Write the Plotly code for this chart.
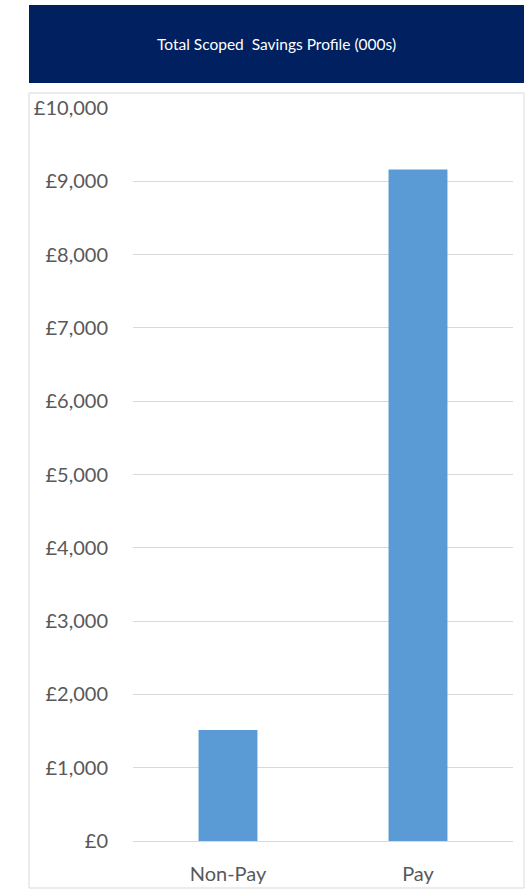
import plotly.graph_objects as go

categories = ["Non-Pay", "Pay"]
values = [1515, 9160]
title_text = "Total Scoped  Savings Profile (000s)"

W, H = 526, 889
L, R, T, B = 133, 13, 108, 48
pw, ph = W - L - R, H - T - B

def px_x(x):
    return (x - L) / pw

def px_y(y):
    return (H - B - y) / ph

fig = go.Figure()
fig.add_trace(go.Bar(x=categories, y=values, marker=dict(color="#5B9BD5", line=dict(width=0)), width=0.31))

fig.update_layout(
    width=W, height=H,
    margin=dict(l=L, r=R, t=T, b=B, pad=0, autoexpand=False),
    paper_bgcolor="white", plot_bgcolor="white",
    font=dict(family="Lato, Carlito, sans-serif", color="#595959"),
    showlegend=False,
    bargap=0.69,
    xaxis=dict(showgrid=False, showline=False, zeroline=False, ticks="", automargin=False,
               tickfont=dict(size=20, color="#595959"), ticklabelstandoff=19),
    yaxis=dict(range=[0, 10000], dtick=1000, tickprefix="£", tickformat=",", automargin=False,
               showgrid=True, gridcolor="#D9D9D9", gridwidth=1, zeroline=True,
               zerolinecolor="#D9D9D9", zerolinewidth=1, showline=False, ticks="",
               tickfont=dict(size=20, color="#595959"), ticklabelstandoff=24),
    shapes=[
        dict(type="rect", xref="paper", yref="paper",
             x0=px_x(29), x1=px_x(524), y0=px_y(888), y1=px_y(93),
             line=dict(color="#D9D9D9", width=1), fillcolor="rgba(0,0,0,0)", layer="below"),
        dict(type="rect", xref="paper", yref="paper",
             x0=px_x(29), x1=px_x(524), y0=px_y(83), y1=px_y(5),
             line=dict(width=0), fillcolor="#002060"),
    ],
    annotations=[
        dict(text=title_text, xref="paper", yref="paper",
             x=px_x(276.5), y=px_y(44), showarrow=False,
             font=dict(size=15.5, color="white", family="Lato, Carlito, sans-serif"),
             xanchor="center", yanchor="middle"),
    ],
)

fig.write_html("out.html")
